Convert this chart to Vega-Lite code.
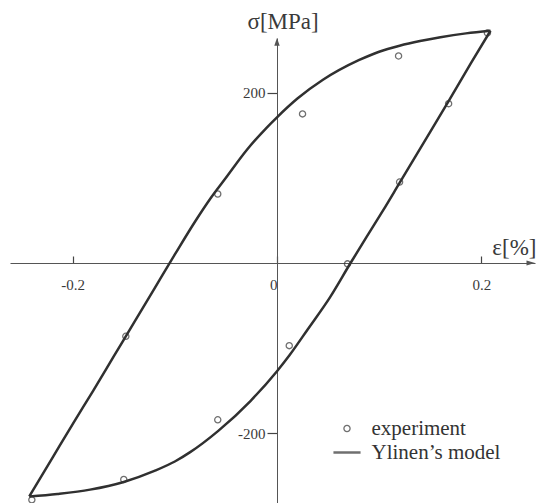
{
  "$schema": "https://vega.github.io/schema/vega-lite/v6.json",
  "width": 525,
  "height": 465,
  "autosize": {"type": "none"},
  "padding": {"left": 10, "top": 38, "right": 3, "bottom": 0},
  "background": "white",
  "config": {
    "view": {"stroke": null},
    "axis": {"grid": false}
  },
  "datasets": {
    "experiment": [
      {"strain": -0.240, "stress": -278, "series": "experiment"},
      {"strain": -0.150, "stress": -254, "series": "experiment"},
      {"strain": -0.148, "stress": -86, "series": "experiment"},
      {"strain": -0.058, "stress": -184, "series": "experiment"},
      {"strain": -0.058, "stress": 81, "series": "experiment"},
      {"strain": 0.012, "stress": -97, "series": "experiment"},
      {"strain": 0.025, "stress": 175, "series": "experiment"},
      {"strain": 0.069, "stress": -1, "series": "experiment"},
      {"strain": 0.119, "stress": 243, "series": "experiment"},
      {"strain": 0.120, "stress": 95, "series": "experiment"},
      {"strain": 0.168, "stress": 187, "series": "experiment"},
      {"strain": 0.206, "stress": 270, "series": "experiment"}
    ],
    "model": [
      {"branch": "loading", "strain": -0.2425, "stress": -274},
      {"branch": "loading", "strain": -0.22, "stress": -229},
      {"branch": "loading", "strain": -0.20, "stress": -189},
      {"branch": "loading", "strain": -0.18, "stress": -150},
      {"branch": "loading", "strain": -0.16, "stress": -110},
      {"branch": "loading", "strain": -0.14, "stress": -70},
      {"branch": "loading", "strain": -0.12, "stress": -30},
      {"branch": "loading", "strain": -0.10, "stress": 10},
      {"branch": "loading", "strain": -0.08, "stress": 49},
      {"branch": "loading", "strain": -0.065, "stress": 76},
      {"branch": "loading", "strain": -0.05, "stress": 100},
      {"branch": "loading", "strain": -0.03, "stress": 132},
      {"branch": "loading", "strain": -0.01, "stress": 159},
      {"branch": "loading", "strain": 0.0, "stress": 171},
      {"branch": "loading", "strain": 0.02, "stress": 193},
      {"branch": "loading", "strain": 0.045, "stress": 215},
      {"branch": "loading", "strain": 0.08, "stress": 238},
      {"branch": "loading", "strain": 0.10, "stress": 248},
      {"branch": "loading", "strain": 0.12, "stress": 255},
      {"branch": "loading", "strain": 0.14, "stress": 260.5},
      {"branch": "loading", "strain": 0.16, "stress": 265},
      {"branch": "loading", "strain": 0.185, "stress": 269.5},
      {"branch": "loading", "strain": 0.209, "stress": 272.6},
      {"branch": "unloading", "strain": -0.2425, "stress": -274},
      {"branch": "unloading", "strain": -0.215, "stress": -271},
      {"branch": "unloading", "strain": -0.183, "stress": -266},
      {"branch": "unloading", "strain": -0.15, "stress": -257},
      {"branch": "unloading", "strain": -0.12, "stress": -244},
      {"branch": "unloading", "strain": -0.10, "stress": -233},
      {"branch": "unloading", "strain": -0.085, "stress": -222},
      {"branch": "unloading", "strain": -0.0575, "stress": -197},
      {"branch": "unloading", "strain": -0.026, "stress": -162},
      {"branch": "unloading", "strain": 0.0, "stress": -127},
      {"branch": "unloading", "strain": 0.0124, "stress": -108},
      {"branch": "unloading", "strain": 0.03, "stress": -78},
      {"branch": "unloading", "strain": 0.052, "stress": -40},
      {"branch": "unloading", "strain": 0.072, "stress": 0},
      {"branch": "unloading", "strain": 0.09, "stress": 35},
      {"branch": "unloading", "strain": 0.104, "stress": 62},
      {"branch": "unloading", "strain": 0.12, "stress": 94},
      {"branch": "unloading", "strain": 0.15, "stress": 154},
      {"branch": "unloading", "strain": 0.168, "stress": 190},
      {"branch": "unloading", "strain": 0.19, "stress": 235},
      {"branch": "unloading", "strain": 0.209, "stress": 272.6}
    ]
  },
  "layer": [
    {
      "data": {"name": "model"},
      "mark": {"type": "line", "color": "#303030", "strokeWidth": 2.5, "interpolate": "monotone"},
      "encoding": {
        "x": {
          "field": "strain",
          "type": "quantitative",
          "scale": {"domain": [-0.26138, 0.25257], "nice": false, "zero": false},
          "axis": {
            "orient": "top",
            "offset": -225,
            "values": [-0.2, 0, 0.2],
            "format": ".1~f",
            "labelExpr": "replace(datum.label, '\u2212', '-')",
            "domainColor": "#555555",
            "domainWidth": 1,
            "ticks": true,
            "tickColor": "#444444",
            "tickWidth": 1.2,
            "tickSize": 7,
            "labelAlign": {"condition": {"test": "datum.value === 0", "value": "right"}, "value": "center"},
            "labelBaseline": "top",
            "labelPadding": -21,
            "labelFont": "Liberation Serif",
            "labelFontSize": 15,
            "labelColor": "#3a3a3a",
            "title": "ε[%]",
            "titleFont": "Liberation Serif",
            "titleFontSize": 23,
            "titleFontWeight": "normal",
            "titleColor": "#3a3a3a",
            "titleAlign": "right",
            "titleBaseline": "alphabetic",
            "titleX": 526,
            "titleY": -9
          }
        },
        "y": {
          "field": "stress",
          "type": "quantitative",
          "scale": {"domain": [-281.69, 264.08], "nice": false, "zero": false},
          "axis": {
            "orient": "left",
            "offset": -267,
            "values": [-200, 200],
            "format": "d",
            "labelExpr": "replace(datum.label, '\u2212', '-')",
            "domainColor": "#555555",
            "domainWidth": 1,
            "tickColor": "#444444",
            "tickWidth": 1.2,
            "tickSize": 10,
            "labelPadding": 2,
            "labelFont": "Liberation Serif",
            "labelFontSize": 15,
            "labelColor": "#3a3a3a",
            "title": "σ[MPa]",
            "titleFont": "Liberation Serif",
            "titleFontSize": 23,
            "titleFontWeight": "normal",
            "titleColor": "#3a3a3a",
            "titleAngle": 0,
            "titleAlign": "left",
            "titleBaseline": "alphabetic",
            "titleX": -30,
            "titleY": -10
          }
        },
        "detail": {"field": "branch", "type": "nominal"}
      }
    },
    {
      "data": {"name": "experiment"},
      "mark": {"type": "point", "filled": false, "color": "#333333", "size": 38},
      "encoding": {
        "x": {"field": "strain", "type": "quantitative"},
        "y": {"field": "stress", "type": "quantitative"},
        "shape": {
          "field": "series",
          "type": "nominal",
          "scale": {"domain": ["experiment", "Ylinen’s model"], "range": ["circle", "M-4.4,0L4.4,0"]},
          "legend": {
            "orient": "none",
            "legendX": 326.5,
            "legendY": 380,
            "title": null,
            "labelFont": "Liberation Serif",
            "labelFontSize": 21,
            "labelColor": "#333333",
            "labelOffset": 14,
            "rowPadding": 2,
            "symbolSize": 38,
            "symbolStrokeColor": "#333333",
            "symbolFillColor": "transparent"
          }
        },
        "strokeWidth": {
          "field": "series",
          "type": "nominal",
          "scale": {"domain": ["experiment", "Ylinen’s model"], "range": [1.3, 2.5]},
          "legend": {
            "orient": "none",
            "legendX": 326.5,
            "legendY": 380,
            "title": null,
            "labelFont": "Liberation Serif",
            "labelFontSize": 21,
            "labelColor": "#333333",
            "labelOffset": 14,
            "rowPadding": 2,
            "symbolSize": 38,
            "symbolStrokeColor": "#333333",
            "symbolFillColor": "transparent"
          }
        }
      }
    },
    {
      "data": {"values": [{"axis": "strain"}]},
      "mark": {"type": "point", "shape": "M-1,-0.6L1,0L-1,0.6Z", "size": 72, "filled": true, "color": "#555555", "opacity": 1, "xOffset": -4.25},
      "encoding": {
        "x": {"value": "width"},
        "y": {"datum": 0}
      }
    },
    {
      "data": {"values": [{"axis": "stress"}]},
      "mark": {"type": "point", "shape": "M-0.7,1L0,-1L0.7,1Z", "size": 60, "filled": true, "color": "#555555", "opacity": 1, "yOffset": 3.9},
      "encoding": {
        "x": {"datum": 0},
        "y": {"value": 0}
      }
    }
  ]
}
